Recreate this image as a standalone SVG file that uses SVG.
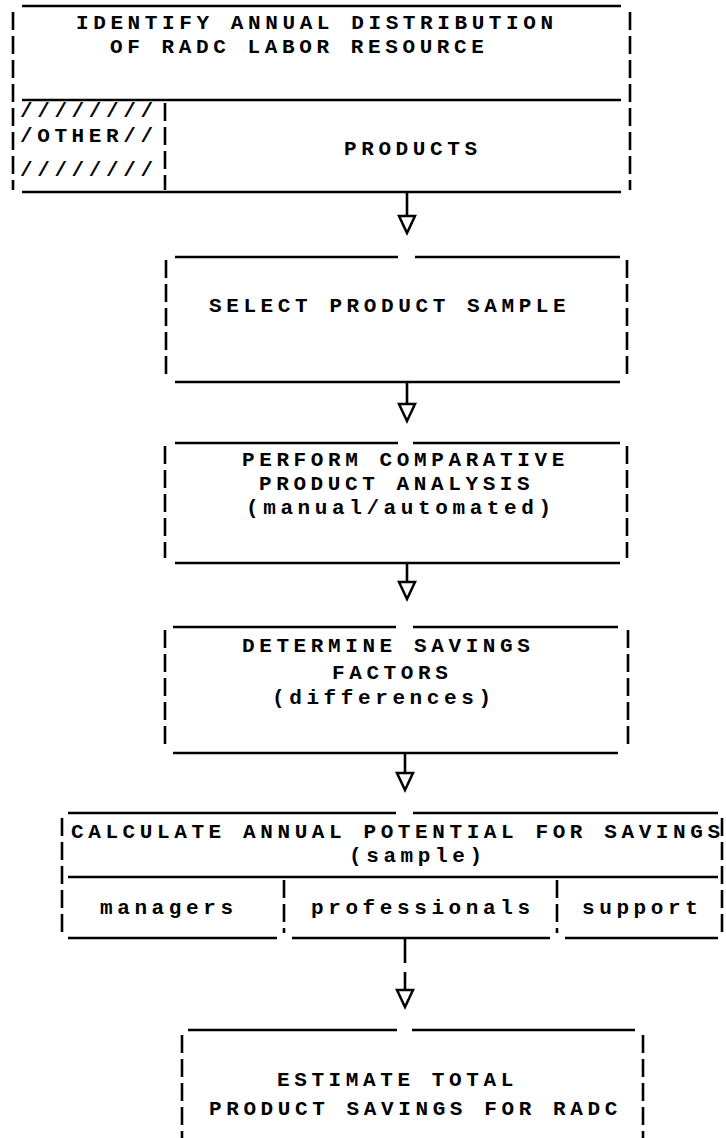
<svg xmlns="http://www.w3.org/2000/svg" width="726" height="1138" viewBox="0 0 726 1138">
<style>
.ln{stroke:#000;stroke-width:2.6;fill:none}
.dv{stroke:#000;stroke-width:2.6;fill:none;stroke-dasharray:18 6}
.t{font-family:"Liberation Mono","DejaVu Sans Mono",monospace;font-weight:bold;font-size:21px;letter-spacing:4.6px;fill:#000}
.cn{stroke:#000;stroke-width:2.6;fill:none}
</style>
<defs>
<marker id="arrow" markerUnits="userSpaceOnUse" viewBox="-3 -11 24 22" refX="0" refY="0" markerWidth="24" markerHeight="22" orient="auto" overflow="visible">
<path d="M0,-8 L17,0 L0,8 Z" fill="#fff" stroke="#000" stroke-width="2.5" stroke-linejoin="miter"/>
</marker>
</defs>
<rect width="726" height="1138" fill="#fff"/>

<g id="node-identify">
<line class="ln" x1="22" y1="6" x2="621" y2="6"/>
<line class="ln" x1="22" y1="100" x2="621" y2="100"/>
<line class="ln" x1="22" y1="192" x2="621" y2="192"/>
<line class="dv" x1="13" y1="12" x2="13" y2="190"/>
<line class="dv" x1="630" y1="12" x2="630" y2="190"/>
<line class="dv" x1="165" y1="103" x2="165" y2="190"/>
<text class="t" x="76" y="29">IDENTIFY ANNUAL DISTRIBUTION</text>
<text class="t" x="110" y="53">OF RADC LABOR RESOURCE</text>
<text class="t" x="20" y="117">////////</text>
<text class="t" x="20" y="142">/OTHER//</text>
<text class="t" x="20" y="176">////////</text>
<text class="t" x="344" y="155">PRODUCTS</text>
</g>

<g id="node-select">
<line class="ln" x1="175" y1="257" x2="398" y2="257"/>
<line class="ln" x1="415" y1="257" x2="620" y2="257"/>
<line class="ln" x1="175" y1="382" x2="620" y2="382"/>
<line class="dv" x1="166" y1="260" x2="166" y2="376"/>
<line class="dv" x1="627" y1="260" x2="627" y2="376"/>
<text class="t" x="209" y="312">SELECT PRODUCT SAMPLE</text>
</g>

<g id="node-perform">
<line class="ln" x1="175" y1="443" x2="398" y2="443"/>
<line class="ln" x1="413" y1="443" x2="620" y2="443"/>
<line class="ln" x1="175" y1="563" x2="620" y2="563"/>
<line class="dv" x1="165" y1="446" x2="165" y2="558"/>
<line class="dv" x1="627" y1="446" x2="627" y2="558"/>
<text class="t" x="242" y="466">PERFORM COMPARATIVE</text>
<text class="t" x="259" y="490">PRODUCT ANALYSIS</text>
<text class="t" x="246" y="514">(manual/automated)</text>
</g>

<g id="node-determine">
<line class="ln" x1="173" y1="627" x2="396" y2="627"/>
<line class="ln" x1="413" y1="627" x2="618" y2="627"/>
<line class="ln" x1="173" y1="753" x2="618" y2="753"/>
<line class="dv" x1="165" y1="630" x2="165" y2="748"/>
<line class="dv" x1="628" y1="630" x2="628" y2="748"/>
<text class="t" x="242" y="652">DETERMINE SAVINGS</text>
<text class="t" x="332" y="679">FACTORS</text>
<text class="t" x="272" y="704">(differences)</text>
</g>

<g id="node-calculate">
<line class="ln" x1="68" y1="813" x2="396" y2="813"/>
<line class="ln" x1="413" y1="813" x2="718" y2="813"/>
<line class="ln" x1="68" y1="877" x2="718" y2="877"/>
<line class="ln" x1="68" y1="938" x2="277" y2="938"/>
<line class="ln" x1="292" y1="938" x2="550" y2="938"/>
<line class="ln" x1="565" y1="938" x2="718" y2="938"/>
<line class="dv" x1="62" y1="818" x2="62" y2="935"/>
<line class="dv" x1="722" y1="818" x2="722" y2="935"/>
<line class="dv" x1="284" y1="880" x2="284" y2="933"/>
<line class="dv" x1="557" y1="880" x2="557" y2="933"/>
<text class="t" x="71" y="838">CALCULATE ANNUAL POTENTIAL FOR SAVINGS</text>
<text class="t" x="349" y="862">(sample)</text>
<text class="t" x="100" y="914">managers</text>
<text class="t" x="311" y="914">professionals</text>
<text class="t" x="582" y="914">support</text>
</g>

<g id="node-estimate">
<line class="ln" x1="188" y1="1030" x2="397" y2="1030"/>
<line class="ln" x1="412" y1="1030" x2="635" y2="1030"/>
<line class="dv" x1="182" y1="1035" x2="182" y2="1138"/>
<line class="dv" x1="643" y1="1035" x2="643" y2="1138"/>
<text class="t" x="277" y="1086">ESTIMATE TOTAL</text>
<text class="t" x="209" y="1115">PRODUCT SAVINGS FOR RADC</text>
</g>

<g id="connectors">
<line class="cn" x1="407" y1="192" x2="407" y2="216" marker-end="url(#arrow)"/>
<line class="cn" x1="407" y1="382" x2="407" y2="404" marker-end="url(#arrow)"/>
<line class="cn" x1="407" y1="563" x2="407" y2="582" marker-end="url(#arrow)"/>
<line class="cn" x1="405" y1="753" x2="405" y2="773" marker-end="url(#arrow)"/>
<line class="cn" x1="405" y1="938" x2="405" y2="963"/>
<line class="cn" x1="405" y1="972" x2="405" y2="990" marker-end="url(#arrow)"/>
</g>
</svg>
